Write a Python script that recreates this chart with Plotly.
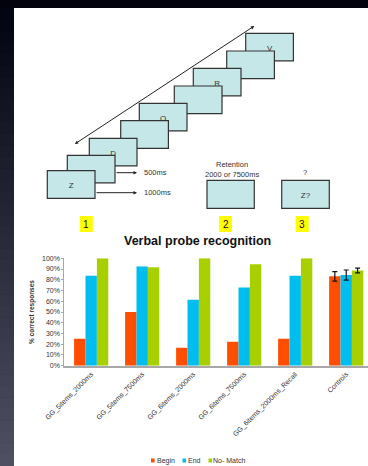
import plotly.graph_objects as go

W, H = 368, 466

# Chart data
categories = ["GG_5items_2000ms", "GG_5items_7500ms", "GG_6items_2000ms",
              "GG_6items_7500ms", "GG_6items_2000ms_Recall", "Controls"]
series_names = ["Begin", "End", "No- Match"]
begin_vals = [25.0, 50.0, 16.7, 22.2, 25.0, 83.2]
end_vals = [83.8, 92.3, 61.5, 72.7, 83.8, 84.4]
nomatch_vals = [100.0, 91.7, 100.0, 94.4, 100.0, 88.6]
# spread is only reported for the control group
controls_err = {"Begin": 4.4, "End": 4.7, "No- Match": 2.2}
y_ticks = list(range(0, 101, 10))
y_tick_labels = [f"{v}%" for v in y_ticks]

colors = ["#ff4e00", "#00bdf0", "#a8d000"]
FONT = "Arial, Liberation Sans, sans-serif"


def px(x):
    return x / W


def py(y):
    return 1 - y / H


shapes = []
annotations = []

# slide backdrop: dark frame with gradient strip on the left, white page
shapes.append(dict(type="rect", xref="paper", yref="paper", x0=px(14), x1=px(W),
                   y0=py(H), y1=py(8), fillcolor="white", line_width=0, layer="below"))
n = 40
top_c = (3, 5, 18)
bot_c = (78, 80, 98)
for i in range(n):
    t = i / (n - 1)
    c = tuple(int(top_c[k] + (bot_c[k] - top_c[k]) * t) for k in range(3))
    y0 = 8 + (H - 8) * i / n
    y1 = 8 + (H - 8) * (i + 1) / n
    shapes.append(dict(type="rect", xref="paper", yref="paper", x0=0, x1=px(14),
                       y0=py(y1 + 0.5), y1=py(y0), fillcolor="rgb(%d,%d,%d)" % c,
                       line_width=0, layer="below"))

# stimulus sequence boxes (drawn back to front)
box_fill = "#c6e7e7"
box_line = dict(color="#333333", width=1.2)
seq_boxes = [
    (245.7, 33.3, "V"),
    (226.7, 51.0, ""),
    (193.3, 68.3, "R"),
    (174.3, 86.0, ""),
    (139.3, 103.3, "Q"),
    (120.7, 120.7, ""),
    (89.3, 138.3, "D"),
    (67.3, 155.3, ""),
    (47.3, 170.7, "Z"),
]
BW, BH = 47.7, 27.6
for bx, by, letter in seq_boxes:
    shapes.append(dict(type="rect", xref="paper", yref="paper",
                       x0=px(bx), x1=px(bx + BW), y0=py(by + BH), y1=py(by),
                       fillcolor=box_fill, line=box_line, layer="above",
                       label=dict(text=letter, textposition="middle center",
                                  font=dict(family=FONT, size=8, color="#333333"))))

# retention and probe boxes
shapes.append(dict(type="rect", xref="paper", yref="paper",
                   x0=px(207), x1=px(254.3), y0=py(208.3), y1=py(180.3),
                   fillcolor=box_fill, line=box_line, layer="above"))
shapes.append(dict(type="rect", xref="paper", yref="paper",
                   x0=px(281.7), x1=px(329.3), y0=py(208.3), y1=py(180.3),
                   fillcolor=box_fill, line=box_line, layer="above",
                   label=dict(text="Z?", textposition="middle center",
                              font=dict(family=FONT, size=8, color="#333333"))))


def arrow(x0, y0, x1, y1, both=False):
    annotations.append(dict(xref="paper", yref="paper", x=px(x1), y=py(y1),
                            axref="pixel", ayref="pixel", ax=x0 - x1, ay=y0 - y1,
                            text="", showarrow=True, arrowhead=2, arrowsize=0.7,
                            arrowwidth=1, arrowcolor="#222222",
                            arrowside="end+start" if both else "end"))


arrow(73.3, 145.0, 254.3, 26.0, both=True)
arrow(115.0, 172.7, 137.0, 172.7)
arrow(95.0, 192.7, 137.0, 192.7)


def text(x, y, s, size=7.5, color="#333333", xanchor="center"):
    annotations.append(dict(xref="paper", yref="paper", x=px(x), y=py(y), text=s,
                            showarrow=False, xanchor=xanchor, yanchor="middle",
                            font=dict(family=FONT, size=size, color=color),
                            borderpad=0))


text(142.5, 172.7, "500ms", xanchor="left")
text(142.5, 192.7, "1000ms", xanchor="left")
text(231.5, 165.0, "Retention")
text(231.5, 174.8, "2000 or 7500ms")
text(304.5, 172.3, "?")

# yellow step numbers
for cx, s in [(86.3, "1"), (225.5, "2"), (302.2, "3")]:
    shapes.append(dict(type="rect", xref="paper", yref="paper",
                       x0=px(cx - 6.5), x1=px(cx + 6.5), y0=py(232), y1=py(216),
                       fillcolor="#ffff00", line_width=0, layer="above"))
    text(cx, 224.3, s, size=10, color="#111111")

# chart title
text(198, 241, "<b>Verbal probe recognition</b>", size=12.5, color="#111111")

# bars: patient conditions without error bars, controls with error bars,
# both sharing one offset group per response type
fig = go.Figure()
for name, vals, col in zip(series_names, [begin_vals, end_vals, nomatch_vals], colors):
    fig.add_trace(go.Bar(
        x=categories[:-1], y=vals[:-1], name=name, offsetgroup=name,
        marker=dict(color=col, line_width=0), showlegend=False,
    ))
    fig.add_trace(go.Bar(
        x=categories[-1:], y=vals[-1:], name=name, offsetgroup=name,
        marker=dict(color=col, line_width=0), showlegend=False,
        error_y=dict(type="data", array=[controls_err[name]], visible=True,
                     color="#111111", thickness=1.2, width=2.5),
    ))

# legend row
leg_items = [(151.0, 156.0), (182.5, 187.3), (208.5, 212.7)]
for (sx, tx), name, col in zip(leg_items, series_names, colors):
    shapes.append(dict(type="rect", xref="paper", yref="paper",
                       x0=px(sx), x1=px(sx + 3.6), y0=py(462.5), y1=py(458.5),
                       fillcolor=col, line_width=0, layer="above"))
    text(tx - 0.5, 460.5, name, size=7, xanchor="left")

y0_px, y100_px = 365.7, 258.3
fig.update_layout(
    width=W, height=H, autosize=False, margin=dict(l=0, r=0, t=0, b=0, pad=0),
    paper_bgcolor="#02030c", plot_bgcolor="rgba(0,0,0,0)",
    barmode="group", bargap=0.33, bargroupgap=0,
    shapes=shapes, annotations=annotations,
    xaxis=dict(domain=[px(64.3), 1], range=[-0.527, 5.427], showgrid=False,
               showline=True, linecolor="#a8a8a8", linewidth=1.5, ticks="",
               tickangle=-45, tickfont=dict(family=FONT, size=7, color="#333333"),
               categoryorder="array", categoryarray=categories,
               automargin=False, fixedrange=True),
    yaxis=dict(domain=[py(y0_px), py(y100_px)], range=[0, 100], showgrid=False,
               showline=True, linecolor="#a8a8a8", linewidth=1, ticks="outside",
               ticklen=2, tickcolor="#a8a8a8", tickvals=y_ticks, ticktext=y_tick_labels,
               tickfont=dict(family=FONT, size=7, color="#333333"), zeroline=False,
               automargin=False, fixedrange=True,
               title=dict(text="<b>% correct responses</b>", standoff=6,
                          font=dict(family=FONT, size=6.5, color="#333333"))),
    font=dict(family=FONT),
)

fig.write_html("out.html", config={"displayModeBar": False})
